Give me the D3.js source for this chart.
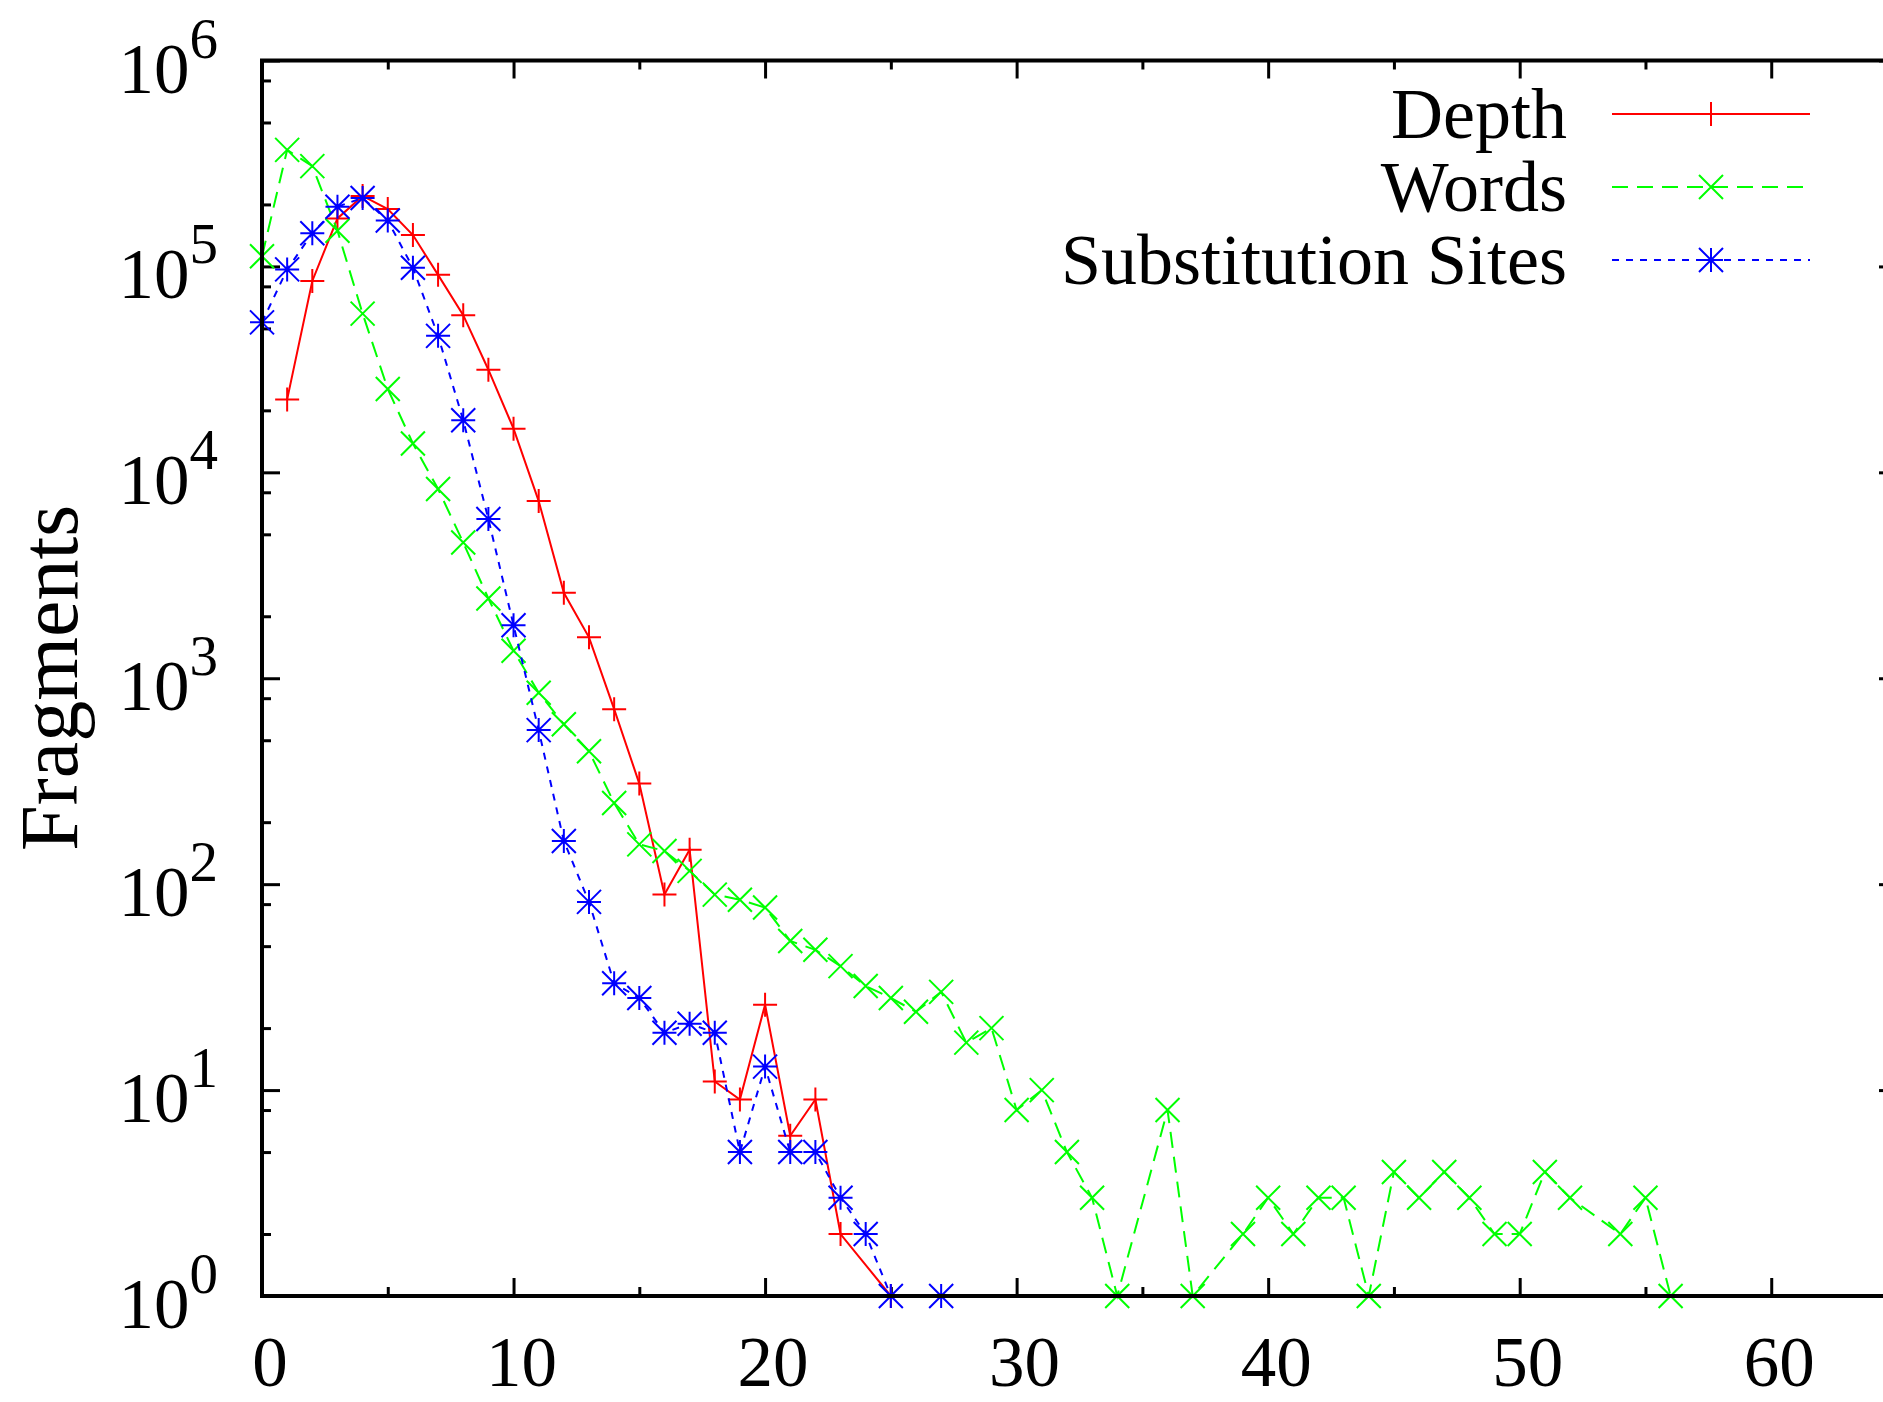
<!DOCTYPE html>
<html>
<head>
<meta charset="utf-8">
<script src="https://cdn.jsdelivr.net/npm/d3@7"></script>
<style>
  html, body { margin: 0; padding: 0; background: #fff; }
  svg { display: block; }
  text { font-family: "Liberation Serif", "Times New Roman", serif; fill: #000; }
</style>
</head>
<body>
<svg id="chart" width="1883" height="1402"></svg>
<script>
// series (x = position, y = fragment count)
var depthX = [1, 2, 3, 4, 5, 6, 7, 8, 9, 10, 11, 12, 13, 14, 15, 16, 17, 18, 19, 20, 21, 22, 23, 25];
var depthY = [22600, 85000, 171000, 220000, 190000, 142000, 91000, 58000, 31500, 16300, 7250, 2600,
              1580, 708, 308, 89, 147, 11, 9, 26, 6, 9, 2, 1];

var wordsX = [0, 1, 2, 3, 4, 5, 6, 7, 8, 9, 10, 11, 12, 13, 14, 15, 16, 17, 18, 19, 20, 21, 22, 23, 24,
              25, 26, 27, 28, 29, 30, 31, 32, 33, 34, 36, 37, 39, 40, 41, 42, 43, 44, 45, 46, 47, 48,
              49, 50, 51, 52, 54, 55, 56];
var wordsY = [112000, 368000, 307000, 149000, 59000, 25400, 13800, 8300, 4560, 2440, 1360, 850, 598,
              442, 248, 156, 145, 116, 89, 84, 77, 53, 48, 40, 32, 28, 24, 30, 17, 20, 8, 10, 5, 3, 1,
              8, 1, 2, 3, 2, 3, 3, 1, 4, 3, 4, 3, 2, 2, 4, 3, 2, 3, 1];

var sitesX = [0, 1, 2, 3, 4, 5, 6, 7, 8, 9, 10, 11, 12, 13, 14, 15, 16, 17, 18, 19, 20, 21, 22, 23, 24, 25, 27];
var sitesY = [53500, 96700, 145000, 195000, 215000, 167000, 98500, 46000, 17900, 5930, 1810, 560, 162,
              82, 33, 28, 19, 21, 19, 5, 13, 5, 5, 3, 2, 1, 1];

var seriesNames = ["Depth", "Words", "Substitution Sites"];
var xMajorTicks = [0, 10, 20, 30, 40, 50, 60];
var xMinorTicks = [5, 15, 25, 35, 45, 55];
var yExponents = [0, 1, 2, 3, 4, 5, 6];
var yMinorMultipliers = [2, 5, 8];

var svg = d3.select("#chart");

var x = d3.scaleLinear().domain([0, 65]).range([262, 1897]);
var y = d3.scaleLog().domain([1, 1e6]).range([1296, 60.5]);

var plotLeft = x.range()[0], plotRight = x.range()[1];
var plotBottom = y.range()[0], plotTop = y.range()[1];

var yMajor = yExponents.map(function (p) { return Math.pow(10, p); });
var yMinor = [];
yExponents.slice(0, -1).forEach(function (p) {
    yMinorMultipliers.forEach(function (m) { yMinor.push(m * Math.pow(10, p)); });
});

// tick marks, all pointing inward
function ticks(axis, values, size, tx, ty) {
    var g = svg.append("g")
        .attr("transform", "translate(" + tx + "," + ty + ")")
        .call(axis.tickValues(values).tickSize(-size).tickSizeOuter(0).tickFormat(""));
    g.select(".domain").remove();
    g.selectAll("line").attr("stroke", "#000").attr("stroke-width", 3);
}
ticks(d3.axisBottom(x), xMajorTicks, 18, 0, plotBottom);
ticks(d3.axisBottom(x), xMinorTicks, 9, 0, plotBottom);
ticks(d3.axisTop(x), xMajorTicks, 18, 0, plotTop);
ticks(d3.axisTop(x), xMinorTicks, 9, 0, plotTop);
ticks(d3.axisLeft(y), yMajor, 18, plotLeft, 0);
ticks(d3.axisLeft(y), yMinor, 9, plotLeft, 0);
ticks(d3.axisRight(y), yMajor, 18, plotRight, 0);
ticks(d3.axisRight(y), yMinor, 9, plotRight, 0);

// tick labels
svg.append("g").selectAll("text")
    .data(xMajorTicks)
    .join("text")
    .attr("x", function (d) { return x(d) + 8; })
    .attr("y", 1386)
    .attr("text-anchor", "middle")
    .attr("font-size", 71)
    .text(function (d) { return d; });

var yl = svg.append("g").selectAll("text")
    .data(yExponents)
    .join("text")
    .attr("x", 218)
    .attr("y", function (d) { return y(Math.pow(10, d)) + 32; })
    .attr("text-anchor", "end")
    .attr("font-size", 71);
yl.append("tspan").text("10");
yl.append("tspan").attr("font-size", 57).attr("dy", -35).text(function (d) { return d; });

svg.append("text")
    .attr("transform", "translate(77,678) rotate(-90)")
    .attr("text-anchor", "middle")
    .attr("font-size", 82)
    .text("Fragments");

// point symbols (gnuplot style)
function plusPath(h) { return "M" + (-h) + ",0H" + h + "M0," + (-h) + "V" + h; }
function timesPath(h) { return "M" + (-h) + "," + (-h) + "L" + h + "," + h + "M" + (-h) + "," + h + "L" + h + "," + (-h); }
function starPath(h) { return plusPath(h) + timesPath(h); }

var series = [
    { name: seriesNames[0], xs: depthX, ys: depthY, color: "#ff0000", dash: null, symbol: plusPath(12) },
    { name: seriesNames[1], xs: wordsX, ys: wordsY, color: "#00ff00", dash: "16,9", symbol: timesPath(12) },
    { name: seriesNames[2], xs: sitesX, ys: sitesY, color: "#0000ff", dash: "7,7", symbol: starPath(12) }
];

var line = d3.line()
    .x(function (d) { return x(d[0]); })
    .y(function (d) { return y(d[1]); });

series.forEach(function (s) {
    var pts = s.xs.map(function (v, i) { return [v, s.ys[i]]; });
    svg.append("path")
        .datum(pts)
        .attr("d", line)
        .attr("fill", "none")
        .attr("stroke", s.color)
        .attr("stroke-width", 2)
        .attr("stroke-dasharray", s.dash);
    svg.append("g").selectAll("path")
        .data(pts)
        .join("path")
        .attr("transform", function (d) { return "translate(" + x(d[0]) + "," + y(d[1]) + ")"; })
        .attr("d", s.symbol)
        .attr("fill", "none")
        .attr("stroke", s.color)
        .attr("stroke-width", 2);
});

// legend
var lg = svg.append("g").selectAll("g")
    .data(series)
    .join("g")
    .attr("transform", function (d, i) { return "translate(0," + (114 + i * 73) + ")"; });
lg.append("text")
    .attr("x", 1567)
    .attr("y", 24)
    .attr("text-anchor", "end")
    .attr("font-size", 72)
    .text(function (d) { return d.name; });
lg.append("line")
    .attr("x1", 1612).attr("x2", 1810)
    .attr("stroke", function (d) { return d.color; })
    .attr("stroke-width", 2)
    .attr("stroke-dasharray", function (d) { return d.dash; });
lg.append("path")
    .attr("transform", "translate(1711,0)")
    .attr("d", function (d) { return d.symbol; })
    .attr("fill", "none")
    .attr("stroke", function (d) { return d.color; })
    .attr("stroke-width", 2);

// frame
svg.append("rect")
    .attr("x", plotLeft).attr("y", plotTop)
    .attr("width", plotRight - plotLeft).attr("height", plotBottom - plotTop)
    .attr("fill", "none")
    .attr("stroke", "#000")
    .attr("stroke-width", 4);
</script>
</body>
</html>
